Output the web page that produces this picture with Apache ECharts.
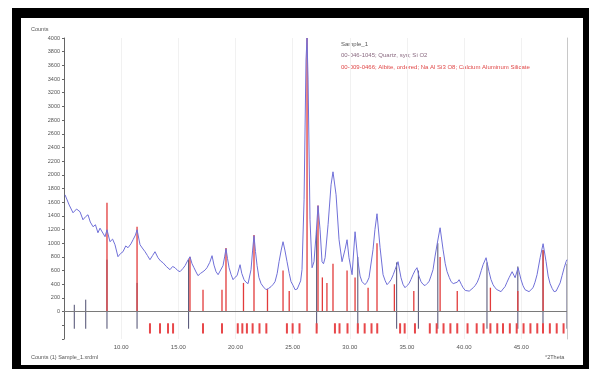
<!DOCTYPE html>
<html>
<head>
<meta charset="utf-8">
<script src="https://cdn.jsdelivr.net/npm/echarts@6/dist/echarts.min.js"></script>
<style>
html,body{margin:0;padding:0;background:#fff}
#c{width:589px;height:369px}
</style>
</head>
<body>
<div id="c"></div>
<script>
// Measured scan: position (°2Theta) and intensity (counts)
const scanAngle = [5.09,5.45,5.79,6.10,6.40,6.66,6.90,7.10,7.30,7.54,7.75,7.97,8.15,8.32,8.59,8.76,9.02,9.25,9.46,9.72,9.95,10.16,10.40,10.60,10.85,11.04,11.25,11.39,11.65,11.85,12.09,12.30,12.52,12.75,12.96,13.22,13.45,13.66,13.95,14.27,14.50,14.71,14.95,15.15,15.40,15.59,15.80,16.02,16.20,16.37,16.55,16.72,16.95,17.16,17.35,17.51,17.75,17.95,18.12,18.30,18.48,18.65,18.91,19.05,19.17,19.30,19.44,19.62,19.79,19.95,20.14,20.40,20.55,20.75,20.92,21.10,21.36,21.50,21.62,21.75,21.89,22.05,22.24,22.45,22.67,22.90,23.11,23.30,23.46,23.65,23.81,24.00,24.16,24.32,24.51,24.70,24.86,25.05,25.21,25.40,25.56,25.70,25.82,26.00,26.17,26.26,26.35,26.52,26.70,26.87,27.05,27.22,27.40,27.57,27.70,27.84,28.10,28.36,28.53,28.80,29.06,29.32,29.58,29.76,29.93,30.20,30.46,30.72,30.90,31.07,31.33,31.50,31.68,32.03,32.20,32.38,32.65,32.91,33.10,33.26,33.45,33.61,33.80,33.96,34.22,34.48,34.65,34.83,35.00,35.18,35.35,35.53,35.70,35.88,36.05,36.23,36.40,36.58,36.75,36.93,37.10,37.28,37.45,37.63,37.90,38.16,38.35,38.51,38.70,38.86,39.05,39.21,39.40,39.56,39.75,39.91,40.10,40.26,40.45,40.61,40.80,40.96,41.15,41.31,41.50,41.66,41.92,42.18,42.35,42.53,42.70,42.88,43.05,43.23,43.40,43.58,43.75,43.93,44.20,44.46,44.72,44.98,45.15,45.33,45.50,45.68,45.85,46.03,46.20,46.38,46.65,46.91,47.17,47.35,47.52,47.70,47.87,48.05,48.22,48.40,48.57,48.75,48.92,49.00];
const scanCounts = [1708,1560,1445,1500,1460,1343,1390,1416,1310,1241,1270,1153,1220,1197,1095,1197,1022,1060,978,803,850,876,960,934,990,1051,1120,1197,978,930,876,820,759,820,876,788,740,715,660,613,660,642,600,584,630,672,740,803,700,642,580,526,560,584,610,642,720,818,680,584,540,511,672,800,920,780,642,540,467,500,526,686,560,467,430,409,613,900,1110,880,672,500,409,360,321,340,365,400,438,560,730,900,1022,900,730,560,438,380,321,330,350,450,613,1635,3679,4000,3387,1343,642,730,1124,1548,1197,730,700,788,1270,1854,2044,1708,1051,730,905,1051,788,540,1168,730,520,438,394,430,496,905,1200,1431,934,540,450,394,430,467,540,613,730,496,400,350,380,409,470,540,600,642,520,438,400,380,410,438,520,613,800,978,1226,905,700,584,500,438,410,394,430,467,400,350,310,292,300,321,350,380,430,496,600,686,788,584,470,394,350,321,300,292,330,365,430,496,584,496,642,467,380,321,300,292,320,350,430,540,788,993,730,520,409,340,292,300,321,420,526,640,730,760];

// Reference pattern A (red): stick positions and relative intensities
const redPos = [8.76,11.39,16.02,17.16,18.82,19.17,20.70,21.62,22.80,24.16,24.70,26.26,27.22,27.60,28.00,28.53,29.76,30.46,31.60,32.38,33.90,35.60,37.90,39.40,42.30,44.70,46.91];
const redInt = [1590,1240,800,320,320,930,420,1120,330,600,300,4000,1550,500,420,700,600,500,350,1000,400,300,800,300,350,300,900];

// Reference pattern A (red): position markers in the lower strip
const redMarkPos = [12.52,13.40,14.10,14.54,17.16,18.82,20.20,20.60,21.00,21.50,22.10,22.70,24.50,25.00,25.60,27.10,28.70,29.10,29.80,30.70,31.30,31.90,32.40,34.40,34.80,35.70,37.00,37.60,38.20,38.80,39.40,40.30,41.10,41.70,42.30,42.90,43.40,44.00,44.60,45.20,45.80,46.40,46.90,47.50,48.10,48.70];

// Reference pattern B (dark): stick positions and relative intensities
const darkPos = [5.90,6.90,8.76,11.39,15.90,27.10,30.70,34.10,36.00,37.70,42.00,44.70,46.90,49.00];
const darkInt = [100,175,760,420,760,1200,800,720,600,1000,720,660,900,700];

// Axis ticks
const xTickStep = 5;
const yTickStep = 200;

const scanData = scanAngle.map((a, i) => [a, scanCounts[i]]);
const redData = redPos.map((a, i) => [a, redInt[i]]);
const redMarkData = redMarkPos.map(a => [a]);
const darkData = darkPos.map((a, i) => [a, darkInt[i]]);

function stick(color, width, y0, fixedTop) {
  return function (params, api) {
    const x = api.value(0);
    const top = fixedTop !== undefined ? fixedTop : api.value(1);
    const p0 = api.coord([x, y0]);
    const p1 = api.coord([x, top]);
    return {
      type: 'line',
      shape: { x1: p0[0], y1: p0[1], x2: p1[0], y2: p1[1] },
      style: { stroke: color, lineWidth: width }
    };
  };
}

const chart = echarts.init(document.getElementById('c'), null, { renderer: 'canvas' });
const smallFont = 'Liberation Sans, Arial, sans-serif';

chart.setOption({
  animation: false,
  backgroundColor: '#fff',
  grid: { left: 64, right: 22, top: 38, bottom: 30, containLabel: false },
  xAxis: [{
    type: 'value', min: 5, max: 49, interval: xTickStep,
    axisLine: { show: false },
    axisTick: { show: false },
    axisLabel: {
      fontSize: 6, color: '#555', fontFamily: smallFont, margin: 5,
      showMaxLabel: false,
      formatter: v => (v <= 5 || v > 45 ? '' : v.toFixed(2))
    },
    splitLine: { show: true, lineStyle: { color: '#f1f1f1', width: 1 } }
  }, {
    type: 'value', min: 5, max: 49, position: 'top',
    axisLine: { show: true, lineStyle: { color: '#c8c8c8', width: 1 } },
    axisTick: { show: false }, axisLabel: { show: false }, splitLine: { show: false }
  }],
  yAxis: [{
    type: 'value', min: -400, max: 4000, interval: yTickStep,
    axisLine: { show: true, lineStyle: { color: '#666', width: 1 } },
    axisTick: { show: true, length: 2, lineStyle: { color: '#666' } },
    axisLabel: {
      fontSize: 5.5, color: '#555', fontFamily: smallFont, margin: 4,
      formatter: v => (v < 0 ? '' : String(v))
    },
    splitLine: { show: false }
  }, {
    type: 'value', min: -400, max: 4000, position: 'right',
    axisLine: { show: true, lineStyle: { color: '#c8c8c8', width: 1 } },
    axisTick: { show: false }, axisLabel: { show: false }, splitLine: { show: false }
  }],
  series: [
    {
      name: 'Pattern B', type: 'custom', clip: true,
      renderItem: stick('#4d4d70', 1, -250),
      data: darkData, z: 2
    },
    {
      name: 'Pattern A', type: 'custom', clip: true,
      renderItem: stick('#e23b3b', 1.3, 0),
      data: redData, z: 3
    },
    {
      name: 'Pattern A markers', type: 'custom', clip: true,
      renderItem: stick('#e8474a', 2, -170, -320),
      data: redMarkData, z: 3
    },
    {
      name: 'Scan', type: 'line', data: scanData, showSymbol: false,
      lineStyle: { color: '#7070d8', width: 1 }, z: 4,
      markLine: {
        silent: true, symbol: 'none', animation: false,
        label: { show: false },
        lineStyle: { color: '#7a7a7a', width: 1, type: 'solid' },
        data: [{ yAxis: 0 }]
      }
    }
  ],
  graphic: [
    { type: 'rect', shape: { x: 12, y: 8, width: 577, height: 10 }, style: { fill: '#000' } },
    { type: 'rect', shape: { x: 12, y: 8, width: 9, height: 361 }, style: { fill: '#000' } },
    { type: 'rect', shape: { x: 583, y: 8, width: 6, height: 361 }, style: { fill: '#000' } },
    { type: 'rect', shape: { x: 12, y: 365, width: 577, height: 4 }, style: { fill: '#000' } },
    { type: 'text', left: 31, top: 26, style: { text: 'Counts', fontSize: 5.5, fill: '#555', fontFamily: smallFont } },
    { type: 'text', left: 341, top: 41, style: { text: 'Sample_1', fontSize: 6, fill: '#555', fontFamily: smallFont } },
    { type: 'text', left: 341, top: 52, style: { text: '00-046-1045; Quartz, syn; Si O2', fontSize: 6, fill: '#8a6a80', fontFamily: smallFont } },
    { type: 'text', left: 341, top: 64, style: { text: '00-009-0466; Albite, ordered; Na Al Si3 O8; Calcium Aluminum Silicate', fontSize: 6, fill: '#e04848', fontFamily: smallFont } },
    { type: 'text', left: 31, top: 354, style: { text: 'Counts (1) Sample_1.xrdml', fontSize: 5.5, fill: '#555', fontFamily: smallFont } },
    { type: 'text', left: 545, top: 354, style: { text: '°2Theta', fontSize: 5.5, fill: '#555', fontFamily: smallFont } }
  ]
});
</script>
</body>
</html>
